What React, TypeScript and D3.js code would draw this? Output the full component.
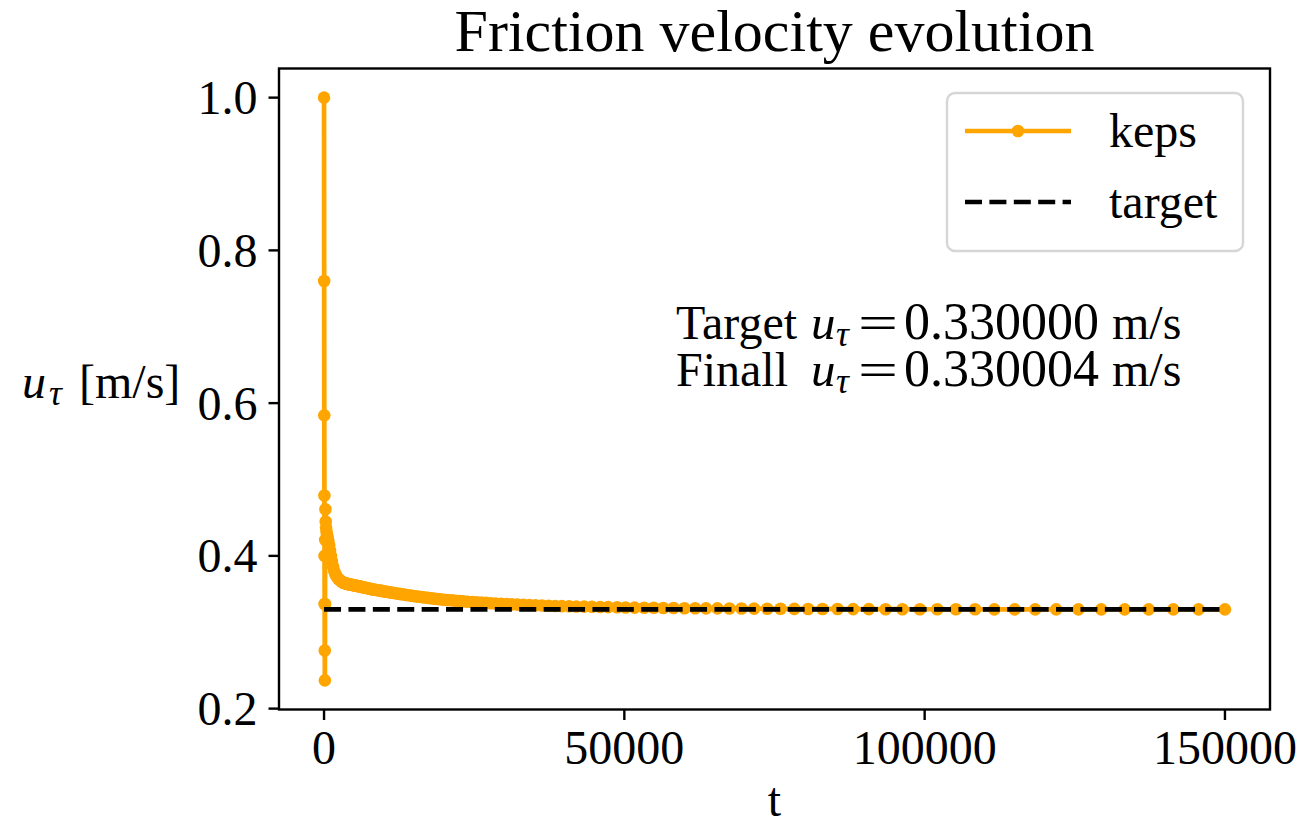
import React from "react";
import * as d3 from "d3";

// ---- data ----
const times: number[] = [
  0, 20, 40, 60, 80, 100, 120, 140, 160, 190, 230, 280, 340, 410, 500, 600, 720, 850, 1000, 1150,
  1300, 1500, 1700, 1900, 2100, 2350, 2650, 2900, 3000, 3100, 3200, 3300, 3400, 3600, 3700, 3800,
  3900, 4000, 4100, 4300, 4400, 4500, 4700, 4800, 5000, 5100, 5300, 5400, 5600, 5800, 5900, 6100,
  6300, 6500, 6700, 6900, 7100, 7300, 7500, 7800, 8000, 8200, 8500, 8700, 9000, 9300, 9500, 9800,
  10100, 10400, 10800, 11100, 11400, 11700, 12100, 12500, 12800, 13200, 13600, 14000, 14500, 14900,
  15300, 15800, 16300, 16800, 17300, 17800, 18300, 18900, 19400, 20000, 20600, 21300, 21900, 22600,
  23200, 23900, 24700, 25400, 26200, 27000, 27800, 28600, 29500, 30400, 31300, 32200, 33200, 34200,
  35200, 36300, 37400, 38500, 39600, 40800, 42000, 43300, 44600, 46000, 47300, 48800, 50200, 51700,
  53300, 54900, 56500, 58200, 60000, 61800, 63600, 65500, 67500, 69500, 71600, 73800, 76000, 78300,
  80600, 83000, 85500, 88100, 90700, 93500, 96300, 99200, 102100, 105200, 108400, 111600, 115000,
  118400, 121900, 125600, 129400, 133300, 137300, 141400, 145600, 150000,
];
const uTau: number[] = [
  1.0, 0.76, 0.584, 0.479, 0.4, 0.337, 0.276, 0.237, 0.337, 0.421, 0.461, 0.445, 0.437, 0.432, 0.428, 0.424, 0.42, 0.414, 0.407, 0.4,
  0.393, 0.386, 0.38, 0.376, 0.373, 0.37, 0.368, 0.3665, 0.366, 0.3655, 0.365, 0.3647, 0.3644, 0.364, 0.3637, 0.3635,
  0.3633, 0.363, 0.3628, 0.3625, 0.3623, 0.3622, 0.362, 0.3618, 0.3615, 0.3613, 0.361, 0.3608, 0.3605, 0.3602, 0.36, 0.3597,
  0.3593, 0.359, 0.3586, 0.3582, 0.3579, 0.3575, 0.3572, 0.3567, 0.3564, 0.356, 0.3556, 0.3553, 0.3549, 0.3545, 0.3542, 0.3538,
  0.3534, 0.353, 0.3525, 0.3521, 0.3517, 0.3513, 0.3508, 0.3503, 0.35, 0.3495, 0.349, 0.3485, 0.348, 0.3475,
  0.347, 0.3465, 0.346, 0.3455, 0.345, 0.3445, 0.344, 0.3435, 0.343, 0.3426, 0.3421, 0.3417, 0.3412, 0.3408,
  0.3404, 0.34, 0.3396, 0.3392, 0.3388, 0.3384, 0.338, 0.3376, 0.3372, 0.3368, 0.3365, 0.3362, 0.3359, 0.3356,
  0.3353, 0.335, 0.3347, 0.3344, 0.3342, 0.334, 0.3337, 0.3335, 0.3333, 0.3331, 0.3329, 0.3327, 0.3325, 0.3323,
  0.3321, 0.332, 0.3318, 0.3317, 0.3315, 0.3314, 0.3313, 0.3312, 0.3311, 0.331, 0.3309, 0.3308, 0.3307, 0.3306,
  0.3305, 0.3305, 0.3304, 0.3303, 0.3303, 0.3302, 0.3302, 0.3301, 0.3301, 0.3301, 0.3301, 0.33, 0.33,
  0.33, 0.33, 0.33, 0.33, 0.33, 0.33, 0.33, 0.33, 0.330004,
];
const targetValue = 0.33;
const targetSpan: number[] = [0, 150000];
const xTicks: number[] = [0, 50000, 100000, 150000];
const yTicks: number[] = [0.2, 0.4, 0.6, 0.8, 1.0];
const seriesNames: string[] = ["keps", "target"];
const titleText = "Friction velocity evolution";
const annotLabels: string[] = ["Target", "Finall"];
const annotValues: string[] = ["0.330000", "0.330004"];

const FONT = "'Liberation Serif', 'Times New Roman', Times, serif";
const ORANGE = "#FFA500";

export default function App() {
  const W = 1304, H = 826;
  const left = 279, right = 1270, top = 68.5, bottom = 709.5;

  const xMin = d3.min(times)!, xMax = d3.max(times)!;
  const yMin = d3.min(uTau)!, yMax = d3.max(uTau)!;
  const xPad = (xMax - xMin) * 0.05, yPad = (yMax - yMin) * 0.05;
  const x = d3.scaleLinear().domain([xMin - xPad, xMax + xPad]).range([left, right]);
  const y = d3.scaleLinear().domain([yMin - yPad, yMax + yPad]).range([bottom, top]);

  const pts = times.map((t, i) => [t, uTau[i]] as [number, number]);
  const line = d3.line<[number, number]>().x(d => x(d[0])).y(d => y(d[1]));
  const fmtY = d3.format(".1f");

  const lw = 4.7;
  const dash = "17,7.4";
  const cx = (left + right) / 2;

  return (
    <svg width={W} height={H} style={{ position: "absolute", left: 0, top: 0, background: "#fff" }}
      fontFamily={FONT}>
      <rect x={0} y={0} width={W} height={H} fill="#fff" />
      {/* title */}
      <text x={cx} y={51} fontSize={60} textAnchor="middle">{titleText}</text>

      {/* data */}
      <g>
        <path d={line(pts) || ""} fill="none" stroke={ORANGE} strokeWidth={lw} strokeLinejoin="round" />
        {pts.map((p, i) => (
          <circle key={i} cx={x(p[0])} cy={y(p[1])} r={6.3} fill={ORANGE} />
        ))}
        <line x1={x(targetSpan[0])} x2={x(targetSpan[1])} y1={y(targetValue)} y2={y(targetValue)}
          stroke="#000" strokeWidth={lw} strokeDasharray={dash} />
      </g>

      {/* spines */}
      <rect x={left} y={top} width={right - left} height={bottom - top} fill="none" stroke="#000" strokeWidth={2.4} />

      {/* x ticks */}
      {xTicks.map(t => (
        <g key={t}>
          <line x1={x(t)} x2={x(t)} y1={bottom} y2={bottom + 10.5} stroke="#000" strokeWidth={2.4} />
          <text x={x(t)} y={764} fontSize={48} textAnchor="middle">{String(t)}</text>
        </g>
      ))}
      {/* y ticks */}
      {yTicks.map(v => (
        <g key={v}>
          <line x1={left - 10.5} x2={left} y1={y(v)} y2={y(v)} stroke="#000" strokeWidth={2.4} />
          <text x={257.5} y={y(v) + 16.5} fontSize={48} textAnchor="end">{fmtY(v)}</text>
        </g>
      ))}

      {/* axis labels */}
      <text x={cx} y={816} fontSize={48} textAnchor="middle">t</text>
      <text x={22} y={398} fontSize={48} fontStyle="italic">u</text>
      <text x={49} y={405} fontSize={36} fontStyle="italic">τ</text>
      <text x={79} y={398} fontSize={48}>[m/s]</text>

      {/* annotation */}
      {annotLabels.map((lab, i) => {
        const by = 339 + i * 47;
        return (
          <g key={lab}>
            <text x={676} y={by} fontSize={48}>{lab}</text>
            <text x={811} y={by} fontSize={49} fontStyle="italic">u</text>
            <text x={836} y={by + 7} fontSize={36} fontStyle="italic">τ</text>
            <text x={858} y={by} fontSize={48} textLength={40} lengthAdjust="spacingAndGlyphs">=</text>
            <text x={904} y={by} fontSize={52}>{annotValues[i]}</text>
            <text x={1112} y={by} fontSize={48}>m/s</text>
          </g>
        );
      })}

      {/* legend */}
      <g>
        <rect x={947} y={93} width={296} height={158} rx={8} fill="#fff" fillOpacity={0.8}
          stroke="#cccccc" strokeOpacity={0.8} strokeWidth={2.4} />
        <line x1={965} x2={1071} y1={131} y2={131} stroke={ORANGE} strokeWidth={lw} />
        <circle cx={1018} cy={131} r={6.3} fill={ORANGE} />
        <text x={1109} y={147} fontSize={48}>{seriesNames[0]}</text>
        <line x1={965} x2={1071} y1={202} y2={202} stroke="#000" strokeWidth={lw} strokeDasharray={dash} />
        <text x={1109} y={218} fontSize={48}>{seriesNames[1]}</text>
      </g>
    </svg>
  );
}
